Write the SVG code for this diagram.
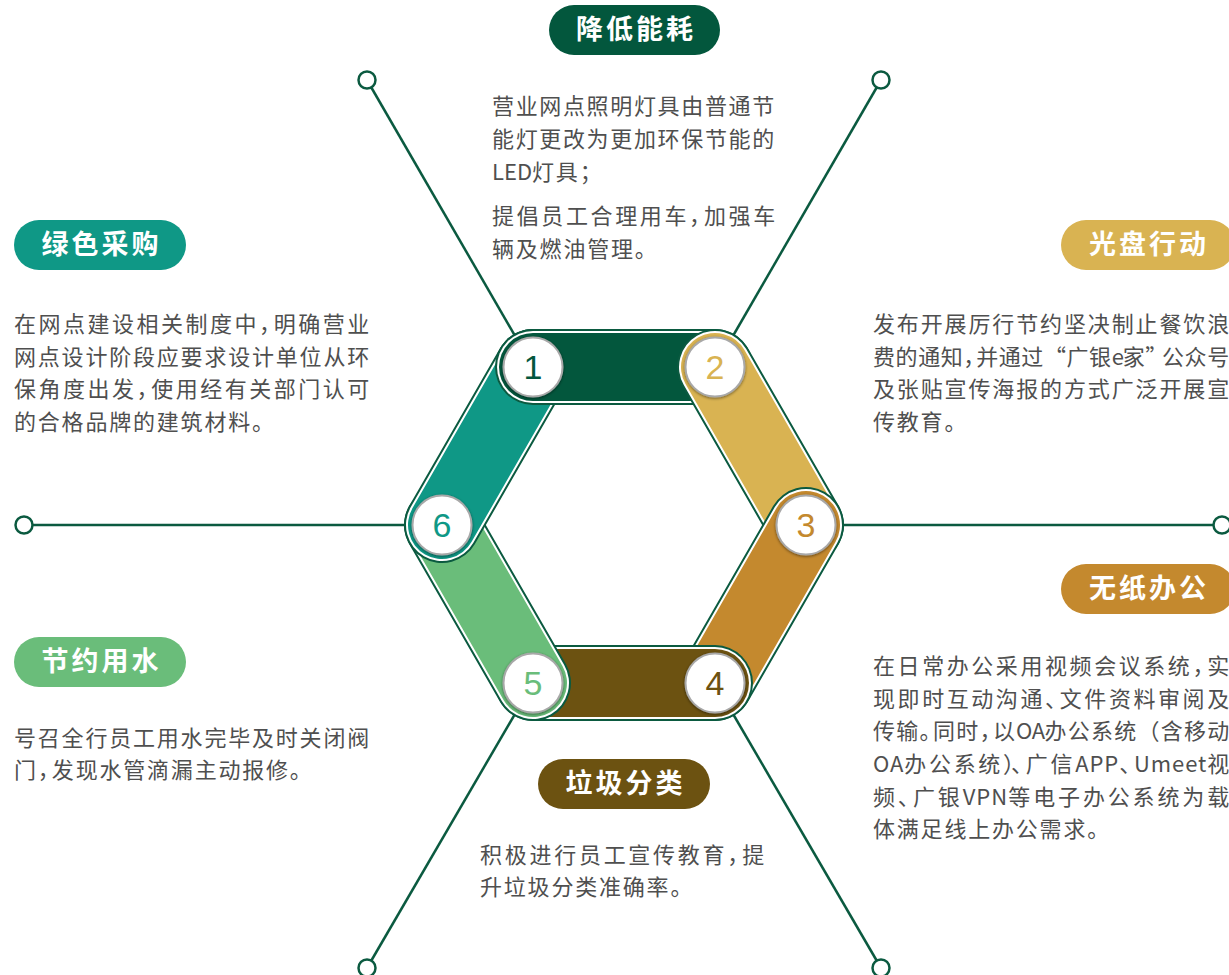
<svg xmlns="http://www.w3.org/2000/svg" width="1229" height="975" viewBox="0 0 1229 975">
<defs>
<style>
.conn{stroke:#0b5a40;stroke-width:2.5;fill:none}
.end{fill:#fff;stroke:#0b5a40;stroke-width:2.5}
.pill-t{font-family:"Noto Sans CJK SC","Noto Sans",sans-serif;font-weight:700;font-size:27px;fill:#fff;letter-spacing:3px;text-anchor:middle}
.body{font-family:"Noto Sans CJK SC","Noto Sans",sans-serif;font-size:22px;fill:#4f4f4f;letter-spacing:1.8px}
.p{letter-spacing:-8px}
.q{letter-spacing:-4px}
.l{letter-spacing:0px}
.cap-o{stroke:#0b5a40;stroke-width:76;stroke-linecap:round}
.cap-w{stroke:#fff;stroke-width:72;stroke-linecap:round}
.num-c{fill:#fff;stroke:#a8a8a8;stroke-width:2}
.num{font-family:"Liberation Sans",Arial,sans-serif;font-size:34px;text-anchor:middle}
</style>
<clipPath id="clipLeft"><rect x="0" y="300" width="600" height="140"/></clipPath>
<filter id="sh" x="-30%" y="-30%" width="160%" height="160%"><feGaussianBlur in="SourceAlpha" stdDeviation="1.5"/><feOffset dx="0" dy="1"/><feComponentTransfer><feFuncA type="linear" slope="0.5"/></feComponentTransfer><feMerge><feMergeNode/><feMergeNode in="SourceGraphic"/></feMerge></filter>
</defs>
<rect width="1229" height="975" fill="#fff"/>
<g id="connectors">
<line class="conn" x1="367" y1="80" x2="533" y2="367"/>
<line class="conn" x1="881" y1="80" x2="715" y2="367"/>
<line class="conn" x1="24" y1="525" x2="442" y2="525"/>
<line class="conn" x1="1222" y1="525" x2="806" y2="525"/>
<line class="conn" x1="367" y1="968" x2="533" y2="683"/>
<line class="conn" x1="881" y1="968" x2="715" y2="683"/>
<circle class="end" cx="367" cy="80" r="8.5"/>
<circle class="end" cx="881" cy="80" r="8.5"/>
<circle class="end" cx="24" cy="525" r="8.5"/>
<circle class="end" cx="1222" cy="525" r="8.5"/>
<circle class="end" cx="367" cy="968" r="8.5"/>
<circle class="end" cx="881" cy="968" r="8.5"/>
</g>
<g id="hexagon">
<g id="seg1"><line class="cap-o" x1="533" y1="367" x2="715" y2="367"/><line class="cap-w" x1="533" y1="367" x2="715" y2="367"/><line stroke="#03573d" stroke-width="68" stroke-linecap="round" x1="533" y1="367" x2="715" y2="367"/></g>
<g id="seg2"><line class="cap-o" x1="715" y1="367" x2="806" y2="525"/><line class="cap-w" x1="715" y1="367" x2="806" y2="525"/><line stroke="#d9b352" stroke-width="68" stroke-linecap="round" x1="715" y1="367" x2="806" y2="525"/></g>
<g id="seg3"><line class="cap-o" x1="806" y1="525" x2="715" y2="683"/><line class="cap-w" x1="806" y1="525" x2="715" y2="683"/><line stroke="#c4892e" stroke-width="68" stroke-linecap="round" x1="806" y1="525" x2="715" y2="683"/></g>
<g id="seg4"><line class="cap-o" x1="715" y1="683" x2="533" y2="683"/><line class="cap-w" x1="715" y1="683" x2="533" y2="683"/><line stroke="#6c5211" stroke-width="68" stroke-linecap="round" x1="715" y1="683" x2="533" y2="683"/></g>
<g id="seg5"><line class="cap-o" x1="533" y1="683" x2="442" y2="525"/><line class="cap-w" x1="533" y1="683" x2="442" y2="525"/><line stroke="#6abd7a" stroke-width="68" stroke-linecap="round" x1="533" y1="683" x2="442" y2="525"/></g>
<g id="seg6"><line class="cap-o" x1="442" y1="525" x2="533" y2="367"/><line class="cap-w" x1="442" y1="525" x2="533" y2="367"/><line stroke="#0f9886" stroke-width="68" stroke-linecap="round" x1="442" y1="525" x2="533" y2="367"/></g>
<g clip-path="url(#clipLeft)"><line class="cap-o" x1="533" y1="367" x2="715" y2="367"/><line class="cap-w" x1="533" y1="367" x2="715" y2="367"/><line stroke="#03573d" stroke-width="68" stroke-linecap="round" x1="533" y1="367" x2="715" y2="367"/></g>
<g filter="url(#sh)">
<circle class="num-c" cx="533" cy="367" r="29.5"/>
<circle class="num-c" cx="715" cy="367" r="29.5"/>
<circle class="num-c" cx="806" cy="525" r="29.5"/>
<circle class="num-c" cx="715" cy="683" r="29.5"/>
<circle class="num-c" cx="533" cy="683" r="29.5"/>
<circle class="num-c" cx="442" cy="525" r="29.5"/>
</g>
<text class="num" x="533" y="379" fill="#03573d">1</text>
<text class="num" x="715" y="379" fill="#d9b352">2</text>
<text class="num" x="806" y="537" fill="#c4892e">3</text>
<text class="num" x="715" y="695" fill="#6c5211">4</text>
<text class="num" x="533" y="695" fill="#6abd7a">5</text>
<text class="num" x="442" y="537" fill="#0f9886">6</text>
</g>
<g id="node-jiangdi">
<rect x="549" y="5" width="171" height="50" rx="25" fill="#03573d"/>
<text class="pill-t" x="636" y="39">降低能耗</text>
<text class="body" x="492" y="114" textLength="284" lengthAdjust="spacing">营业网点照明灯具由普通节</text>
<text class="body" x="492" y="147" textLength="284" lengthAdjust="spacing">能灯更改为更加环保节能的</text>
<text class="body" x="492" y="180"><tspan class="l">LED</tspan>灯具；</text>
<text class="body" x="492" y="224" textLength="285" lengthAdjust="spacing">提倡员工合理用车<tspan class="p">，</tspan>加强车</text>
<text class="body" x="492" y="257">辆及燃油管理。</text>
</g>
<g id="node-lvse">
<rect x="14" y="220" width="172" height="50" rx="25" fill="#0f9886"/>
<text class="pill-t" x="101.5" y="254">绿色采购</text>
<text class="body" x="14" y="332" textLength="357" lengthAdjust="spacing">在网点建设相关制度中<tspan class="p">，</tspan>明确营业</text>
<text class="body" x="14" y="365" textLength="357" lengthAdjust="spacing">网点设计阶段应要求设计单位从环</text>
<text class="body" x="14" y="397" textLength="357" lengthAdjust="spacing">保角度出发<tspan class="p">，</tspan>使用经有关部门认可</text>
<text class="body" x="14" y="430">的合格品牌的建筑材料。</text>
</g>
<g id="node-guangpan">
<rect x="1061" y="220" width="174" height="50" rx="25" fill="#d9b352"/>
<text class="pill-t" x="1149" y="254">光盘行动</text>
<text class="body" x="873" y="332" textLength="358" lengthAdjust="spacing">发布开展厉行节约坚决制止餐饮浪</text>
<text class="body" x="873" y="365" textLength="358" lengthAdjust="spacing">费的通知<tspan class="p">，</tspan>并通过“广银<tspan class="l">e</tspan>家<tspan class="q">”</tspan>公众号</text>
<text class="body" x="873" y="397" textLength="358" lengthAdjust="spacing">及张贴宣传海报的方式广泛开展宣</text>
<text class="body" x="873" y="430">传教育。</text>
</g>
<g id="node-wuzhi">
<rect x="1061" y="564" width="174" height="50" rx="25" fill="#c4892e"/>
<text class="pill-t" x="1149" y="598">无纸办公</text>
<text class="body" x="873" y="674" textLength="358" lengthAdjust="spacing">在日常办公采用视频会议系统<tspan class="p">，</tspan>实</text>
<text class="body" x="873" y="707" textLength="358" lengthAdjust="spacing">现即时互动沟通<tspan class="p">、</tspan>文件资料审阅及</text>
<text class="body" x="873" y="739" textLength="358" lengthAdjust="spacing">传输<tspan class="p">。</tspan>同时<tspan class="p">，</tspan>以<tspan class="l">OA</tspan>办公系统（含移动</text>
<text class="body" x="873" y="772" textLength="358" lengthAdjust="spacing"><tspan class="l">OA</tspan>办公系统<tspan class="q">）</tspan><tspan class="p">、</tspan>广信<tspan class="l">APP</tspan><tspan class="p">、</tspan><tspan class="l">Umeet</tspan>视</text>
<text class="body" x="873" y="805" textLength="358" lengthAdjust="spacing">频<tspan class="p">、</tspan>广银<tspan class="l">VPN</tspan>等电子办公系统为载</text>
<text class="body" x="873" y="837">体满足线上办公需求。</text>
</g>
<g id="node-jieyue">
<rect x="14" y="637" width="172" height="50" rx="25" fill="#6abd7a"/>
<text class="pill-t" x="101.5" y="671">节约用水</text>
<text class="body" x="14" y="746" textLength="357" lengthAdjust="spacing">号召全行员工用水完毕及时关闭阀</text>
<text class="body" x="14" y="778">门<tspan class="p">，</tspan>发现水管滴漏主动报修。</text>
</g>
<g id="node-laji">
<rect x="538" y="759" width="172" height="50" rx="25" fill="#6c5211"/>
<text class="pill-t" x="625.5" y="793">垃圾分类</text>
<text class="body" x="480" y="863" textLength="286" lengthAdjust="spacing">积极进行员工宣传教育<tspan class="p">，</tspan>提</text>
<text class="body" x="480" y="895">升垃圾分类准确率。</text>
</g>
</svg>
